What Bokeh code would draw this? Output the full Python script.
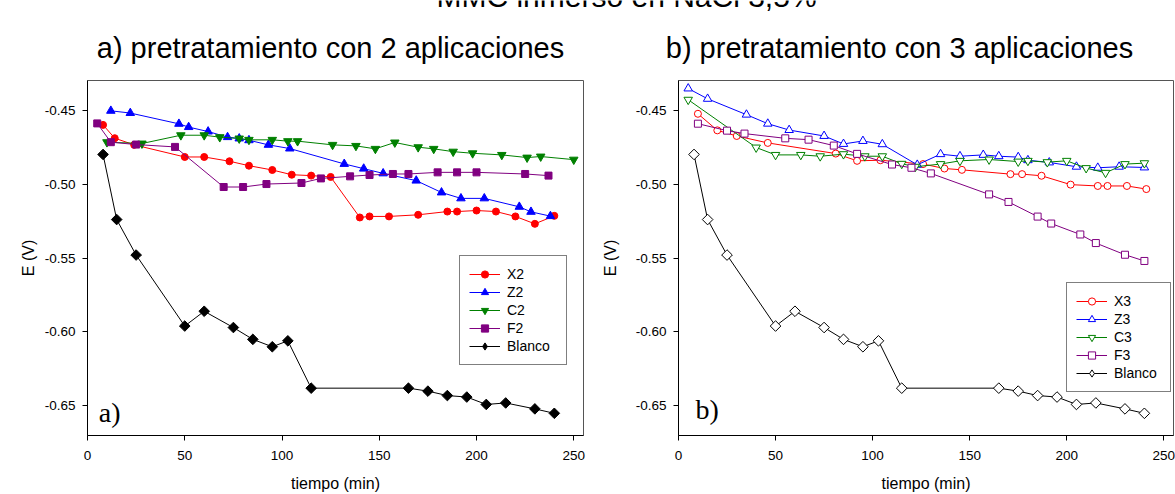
import math
from bokeh.plotting import figure
from bokeh.models import (Range1d, Label, Legend, LegendItem, FixedTicker,
                          PrintfTickFormatter)
from bokeh.layouts import row, column
from bokeh.embed import file_html
from bokeh.resources import INLINE

FONT = "Liberation Sans"
SERIF = "Liberation Serif"

# ---------------- data: a) two applications ----------------
t_x2 = [8, 14, 24, 50, 60, 73, 83, 95, 105, 115, 125, 140, 145, 155, 170, 185, 190, 200, 210, 220, 230, 240]
e_x2 = [-0.460, -0.469, -0.4735, -0.4817, -0.4817, -0.4846, -0.4876, -0.4905, -0.4937, -0.4943, -0.4952,
        -0.5226, -0.5219, -0.5219, -0.5208, -0.5186, -0.5186, -0.5179, -0.5186, -0.5219, -0.5269, -0.5215]

t_z2 = [12, 22, 47, 52, 62, 72, 78, 83, 93, 104, 132, 142, 152, 169, 182, 192, 204, 222, 228, 238]
e_z2 = [-0.4505, -0.452, -0.4593, -0.4615, -0.4645, -0.4683, -0.4692, -0.4704, -0.4735, -0.476, -0.4864,
        -0.4896, -0.4928, -0.4977, -0.5057, -0.5097, -0.5097, -0.5154, -0.5188, -0.5217]

t_c2 = [10, 28, 48, 60, 68, 78, 83, 95, 103, 108, 126, 138, 148, 158, 170, 178, 188, 198, 213, 226, 233, 250]
e_c2 = [-0.4717, -0.4726, -0.467, -0.467, -0.4683, -0.4692, -0.4701, -0.4701, -0.471, -0.471, -0.4735,
        -0.4742, -0.4762, -0.4719, -0.4751, -0.4762, -0.4781, -0.4792, -0.4803, -0.4821, -0.4814, -0.4835]

t_f2 = [5, 12, 25, 45, 70, 80, 92, 110, 120, 135, 145, 157, 165, 180, 190, 200, 225, 237]
e_f2 = [-0.459, -0.4717, -0.4733, -0.4749, -0.502, -0.502, -0.500, -0.4993, -0.4962, -0.4948, -0.4939,
        -0.4932, -0.4932, -0.4921, -0.4921, -0.4921, -0.4932, -0.4943]

t_blanco = [8, 15, 25, 50, 60, 75, 85, 95, 103, 115, 165, 175, 185, 195, 205, 215, 230, 240]
e_blanco = [-0.480, -0.524, -0.548, -0.596, -0.586, -0.597, -0.605, -0.610, -0.606, -0.638, -0.638,
            -0.640, -0.643, -0.644, -0.649, -0.648, -0.652, -0.655]

# ---------------- data: b) three applications ----------------
t_x3 = [10, 20, 30, 46, 81, 92, 104, 126, 137, 146, 171, 177, 187, 202, 216, 221, 231, 241]
e_x3 = [-0.4525, -0.4637, -0.4675, -0.4722, -0.4794, -0.4843, -0.4839, -0.4865, -0.4895, -0.4904,
        -0.4933, -0.4933, -0.4944, -0.5004, -0.5013, -0.5013, -0.5013, -0.5034]

t_z3 = [5, 15, 35, 46, 57, 75, 85, 95, 105, 123, 135, 145, 157, 165, 175, 180, 191, 205, 216, 227, 240]
e_z3 = [-0.4354, -0.4424, -0.4531, -0.4592, -0.4635, -0.4675, -0.4729, -0.4709, -0.4731, -0.487, -0.4798,
        -0.4812, -0.4803, -0.4812, -0.4818, -0.4839, -0.4854, -0.4883, -0.489, -0.4883, -0.4888]

t_c3 = [5, 40, 50, 63, 73, 85, 96, 105, 115, 122, 135, 145, 160, 175, 180, 190, 200, 210, 220, 230, 240]
e_c3 = [-0.443, -0.4753, -0.4803, -0.4803, -0.4812, -0.4798, -0.4812, -0.4812, -0.4863, -0.4883, -0.4865,
        -0.4843, -0.4834, -0.4848, -0.4843, -0.4852, -0.4843, -0.4892, -0.4924, -0.4865, -0.4859]

t_f3 = [10, 25, 34, 55, 67, 80, 92, 110, 120, 130, 160, 170, 185, 192, 207, 215, 230, 240]
e_f3 = [-0.4592, -0.4639, -0.4659, -0.4691, -0.470, -0.474, -0.4796, -0.4868, -0.489, -0.4928, -0.507,
        -0.5121, -0.522, -0.5267, -0.5341, -0.5399, -0.5478, -0.552]

x_ticks = [0, 50, 100, 150, 200, 250]
y_ticks = [-0.65, -0.60, -0.55, -0.50, -0.45]

top_title = "MMC inmerso en NaCl 3,5%"
title_a = "a) pretratamiento con 2 aplicaciones"
title_b = "b) pretratamiento con 3 aplicaciones"
x_label = "tiempo (min)"
y_label = "E (V)"

STRIP_H = 72
PLOT_H = 494 - STRIP_H


def make_fig(width, border_left, border_right, ylabel_standoff):
    p = figure(width=width, height=PLOT_H, x_range=Range1d(0, 255), y_range=Range1d(-0.67, -0.43),
               output_backend="svg", toolbar_location=None,
               min_border_left=border_left, min_border_right=border_right,
               min_border_top=8, min_border_bottom=57)
    p.grid.visible = False
    p.outline_line_color = "#555555"
    p.outline_line_width = 1
    p.background_fill_color = "white"
    p.border_fill_color = "white"
    for ax in (p.xaxis[0], p.yaxis[0]):
        ax.axis_line_color = "black"
        ax.major_tick_line_color = "black"
        ax.minor_tick_line_color = None
        ax.major_tick_in = 0
        ax.major_tick_out = 5
        ax.major_label_text_font = FONT
        ax.major_label_text_font_size = "13.5px"
        ax.major_label_text_color = "black"
        ax.axis_label_text_font = FONT
        ax.axis_label_text_font_size = "16px"
        ax.axis_label_text_font_style = "normal"
        ax.axis_label_text_color = "black"
    p.xaxis.ticker = FixedTicker(ticks=x_ticks)
    p.yaxis.ticker = FixedTicker(ticks=y_ticks)
    p.xaxis.formatter = PrintfTickFormatter(format="%d")
    p.yaxis.formatter = PrintfTickFormatter(format="%.2f")
    p.xaxis.major_label_standoff = 10
    p.xaxis.major_label_text_line_height = 1.0
    p.xaxis.axis_label_text_line_height = 1.0
    p.yaxis.major_label_standoff = 7
    p.xaxis.axis_label = x_label
    p.yaxis.axis_label = y_label
    p.xaxis.axis_label_standoff = 12
    p.yaxis.axis_label_standoff = ylabel_standoff
    return p


def add_series(p, t, e, color, marker, size, filled, angle=0.0):
    ln = p.line(t, e, line_color=color, line_width=1)
    sc = p.scatter(t, e, marker=marker, size=size, angle=angle,
                   line_color=color, line_width=1,
                   fill_color=color if filled else "white")
    return [ln, sc]


def add_blanco(p, filled):
    # visible markers: squares turned by 45 degrees (true diamonds)
    ln = p.line(t_blanco, e_blanco, line_color="black", line_width=1)
    p.scatter(t_blanco, e_blanco, marker="square", size=7.5, angle=math.pi / 4,
              line_color="black", line_width=1, fill_color="black" if filled else "white")
    # hidden twin used only for the legend swatch (legend ignores angles)
    twin = p.scatter(t_blanco, e_blanco, marker="diamond", size=10,
                     line_color="black", line_width=1,
                     fill_color="black" if filled else "white", visible=False)
    return [ln, twin]


def add_legend(p, items, loc, label_width):
    leg = Legend(items=[LegendItem(label=lab, renderers=r) for lab, r in items],
                 location=loc, orientation="vertical")
    leg.label_text_font = FONT
    leg.label_text_font_size = "14px"
    leg.label_text_color = "black"
    leg.glyph_width = 31
    leg.glyph_height = 18
    leg.label_height = 18
    leg.label_width = label_width
    leg.label_standoff = 7
    leg.spacing = 0
    leg.padding = 9
    leg.margin = 0
    leg.border_line_color = "black"
    leg.border_line_width = 1
    leg.background_fill_color = "white"
    leg.background_fill_alpha = 1.0
    leg.inactive_fill_alpha = 0.0
    p.add_layout(leg)


# ---- left figure (canvas x 0..598, frame 87..583)
p1 = make_fig(598, 87, 15, 5)
r_x2 = add_series(p1, t_x2, e_x2, "#FF0000", "circle", 7, True)
r_z2 = add_series(p1, t_z2, e_z2, "#0000FF", "triangle", 8.5, True)
r_c2 = add_series(p1, t_c2, e_c2, "#008000", "inverted_triangle", 8.5, True)
r_f2 = add_series(p1, t_f2, e_f2, "#800080", "square", 7, True)
r_b2 = add_blanco(p1, True)
add_legend(p1, [("X2", r_x2), ("Z2", r_z2), ("C2", r_c2), ("F2", r_f2), ("Blanco", r_b2)], (372, 70), 50)
p1.add_layout(Label(x=5.8, y=-0.6542, text="a)", text_font=SERIF, text_font_size="28px",
                    text_baseline="middle", text_align="left", text_color="black"))

# ---- right figure (canvas x 598..1175, frame 677..1173)
p2 = make_fig(577, 79, 2, 14)
r_x3 = add_series(p2, t_x3, e_x3, "#FF0000", "circle", 7, False)
r_z3 = add_series(p2, t_z3, e_z3, "#0000FF", "triangle", 8.5, False)
r_c3 = add_series(p2, t_c3, e_c3, "#008000", "inverted_triangle", 8.5, False)
r_f3 = add_series(p2, t_f3, e_f3, "#800080", "square", 7, False)
r_b3 = add_blanco(p2, False)
add_legend(p2, [("X3", r_x3), ("Z3", r_z3), ("C3", r_c3), ("F3", r_f3), ("Blanco", r_b3)], (388, 43), 47)
p2.add_layout(Label(x=8.7, y=-0.6522, text="b)", text_font=SERIF, text_font_size="28px",
                    text_baseline="middle", text_align="left", text_color="black"))

# ---- strip with headings (data units = pixels, y measured from strip bottom)
pt = figure(width=1175, height=STRIP_H, x_range=Range1d(0, 1175), y_range=Range1d(0, STRIP_H),
            output_backend="svg", toolbar_location=None, min_border=0,
            x_axis_type=None, y_axis_type=None)
pt.outline_line_color = None
pt.grid.visible = False
pt.border_fill_color = "white"
pt.add_layout(Label(x=626, y=STRIP_H + 4, text=top_title, text_font=FONT, text_font_size="30px",
                    text_baseline="middle", text_align="center", text_color="black"))
pt.add_layout(Label(x=330, y=STRIP_H - 47, text=title_a, text_font=FONT, text_font_size="29px",
                    text_baseline="middle", text_align="center", text_color="black"))
pt.add_layout(Label(x=899, y=STRIP_H - 47, text=title_b, text_font=FONT, text_font_size="29px",
                    text_baseline="middle", text_align="center", text_color="black"))

layout = column(pt, row(p1, p2))

open("out.html", "w").write(file_html(layout, INLINE))
